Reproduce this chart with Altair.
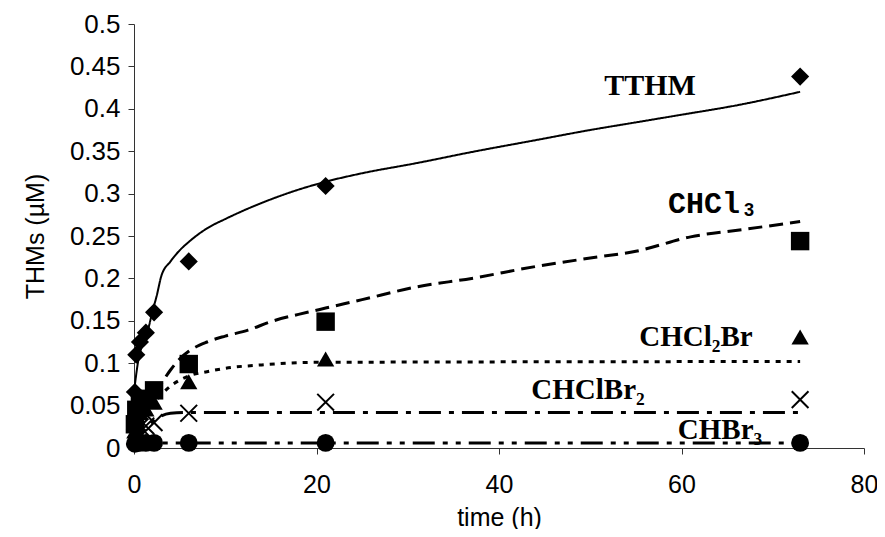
import altair as alt
import pandas as pd

# ---- data ----
sample_t = [0.1, 0.25, 0.65, 1.3, 2.2, 6, 21, 73]
tthm_pts = [0.066, 0.110, 0.125, 0.136, 0.160, 0.220, 0.309, 0.438]
chcl3_pts = [0.028, 0.045, 0.052, 0.058, 0.068, 0.099, 0.149, 0.244]
chcl2br_pts = [0.020, 0.037, 0.042, 0.046, 0.054, 0.078, 0.105, 0.131]
chclbr2_pts = [0.013, 0.022, 0.025, 0.026, 0.030, 0.041, 0.054, 0.057]
chbr3_pts = [0.005, 0.006, 0.006, 0.006, 0.006, 0.006, 0.006, 0.006]

tthm_fit_t = [0, 0.5, 1.0, 1.5, 2.0, 2.5, 3.0, 4.0, 5.0, 6.0, 8.0, 10, 12, 14, 17, 21, 25, 31, 37, 44, 50, 55, 60, 66, 73]
tthm_fit_v = [0.066, 0.105, 0.124, 0.138, 0.160, 0.180, 0.203, 0.220, 0.233, 0.243, 0.259, 0.270, 0.280, 0.289, 0.301,
              0.314, 0.324, 0.336, 0.349, 0.363, 0.375, 0.384, 0.393, 0.404, 0.420]
chcl3_fit_t = [0, 1, 2, 3, 4, 5, 6, 8, 10, 12.5, 15, 19, 21, 25, 31, 37, 44, 50, 55, 61, 67, 73]
chcl3_fit_v = [0.020, 0.040, 0.058, 0.076, 0.092, 0.105, 0.114, 0.125, 0.132, 0.139, 0.149, 0.160, 0.165, 0.175,
               0.190, 0.200, 0.214, 0.224, 0.232, 0.249, 0.258, 0.267]
chcl2br_fit_t = [0, 1, 2, 3, 4, 5, 6, 8, 10, 14, 20, 73]
chcl2br_fit_v = [0.0, 0.030, 0.050, 0.063, 0.073, 0.080, 0.085, 0.090, 0.094, 0.098, 0.101, 0.102]
chclbr2_fit_t = [0, 1, 2, 3, 4, 6, 73]
chclbr2_fit_v = [0.0, 0.018, 0.031, 0.038, 0.041, 0.042, 0.042]
chbr3_fit_t = [0, 0.5, 1, 2, 73]
chbr3_fit_v = [0.0, 0.004, 0.005, 0.006, 0.006]

label_names = ["TTHM", "CHCl₃", "CHCl₂Br", "CHClBr₂", "CHBr₃"]
x_ticks = [0, 20, 40, 60, 80]
y_ticks = [0, 0.05, 0.1, 0.15, 0.2, 0.25, 0.3, 0.35, 0.4, 0.45, 0.5]

# ---- chart ----
W, H = 730, 424
FONT = "Liberation Sans"

x_enc = alt.X("t:Q", scale=alt.Scale(domain=[0, 80], nice=False, zero=True),
              axis=alt.Axis(values=x_ticks, title="time (h)", format="d", tickSize=6,
                            labelPadding=18, labelFlush=False, labelFontSize=25,
                            titleX=W / 2, titleY=69, titleBaseline="middle", titleAnchor="middle"))
y_enc = alt.Y("v:Q", scale=alt.Scale(domain=[0, 0.5], nice=False),
              axis=alt.Axis(values=y_ticks, title="THMs (µM)", format=".2~f", tickSize=6,
                            labelPadding=8, labelFlush=False, labelFontSize=26,
                            titleX=-99, titleY=H / 2, titleAngle=270,
                            titleBaseline="middle", titleAlign="center"))

fits = [
    (tthm_fit_t, tthm_fit_v, [1, 0], 2),
    (chcl3_fit_t, chcl3_fit_v, [14, 7], 3),
    (chcl2br_fit_t, chcl2br_fit_v, [5, 6], 3),
    (chclbr2_fit_t, chclbr2_fit_v, [22, 8, 5, 8], 3),
    (chbr3_fit_t, chbr3_fit_v, [22, 8, 5, 8, 5, 8], 3),
]
pts = [
    (tthm_pts, dict(shape="diamond", filled=True, size=330)),
    (chcl3_pts, dict(shape="square", filled=True, size=340)),
    (chcl2br_pts, dict(shape="triangle-up", filled=True, size=300)),
    (chclbr2_pts, dict(shape="M -1 -1 L 1 1 M -1 1 L 1 -1", filled=False, size=280, strokeWidth=2)),
    (chbr3_pts, dict(shape="circle", filled=True, size=320)),
]

layers = []
for ft, fv, dash, sw in fits:
    df = pd.DataFrame({"t": ft, "v": fv})
    layers.append(alt.Chart(df).mark_line(color="black", strokeWidth=sw, strokeDash=dash,
                                          interpolate="monotone").encode(x=x_enc, y=y_enc))
for vals, style in pts:
    df = pd.DataFrame({"t": sample_t, "v": vals})
    layers.append(alt.Chart(df).mark_point(color="black", opacity=1, **style).encode(x=x_enc, y=y_enc))

label_styles = [
    (516, 62, "Liberation Serif", 30),
    (579, 180, "Liberation Mono", 30),
    (562, 313, "Liberation Serif", 29),
    (454, 366, "Liberation Serif", 29),
    (586, 406, "Liberation Serif", 29),
]
for name, (px, py, fnt, fs) in zip(label_names, label_styles):
    df = pd.DataFrame({"label": [name]})
    layers.append(alt.Chart(df).mark_text(font=fnt, fontSize=fs, fontWeight="bold", color="black",
                                          align="center", baseline="middle")
                  .encode(x=alt.value(px), y=alt.value(py), text="label:N"))

chart = alt.layer(*layers).properties(
    width=W, height=H,
    autosize=alt.AutoSizeParams(type="none"),
    padding={"left": 126, "top": 16, "right": 13, "bottom": 81},
).configure_view(stroke=None).configure_axis(
    grid=False, domainColor="#333", tickColor="#333", domainWidth=1, tickWidth=1,
    labelFont=FONT, titleFont=FONT, titleFontSize=25,
    labelColor="black", titleColor="black", titleFontWeight="normal",
)

chart.save("out.html", embed_options={"renderer": "svg", "actions": False})
